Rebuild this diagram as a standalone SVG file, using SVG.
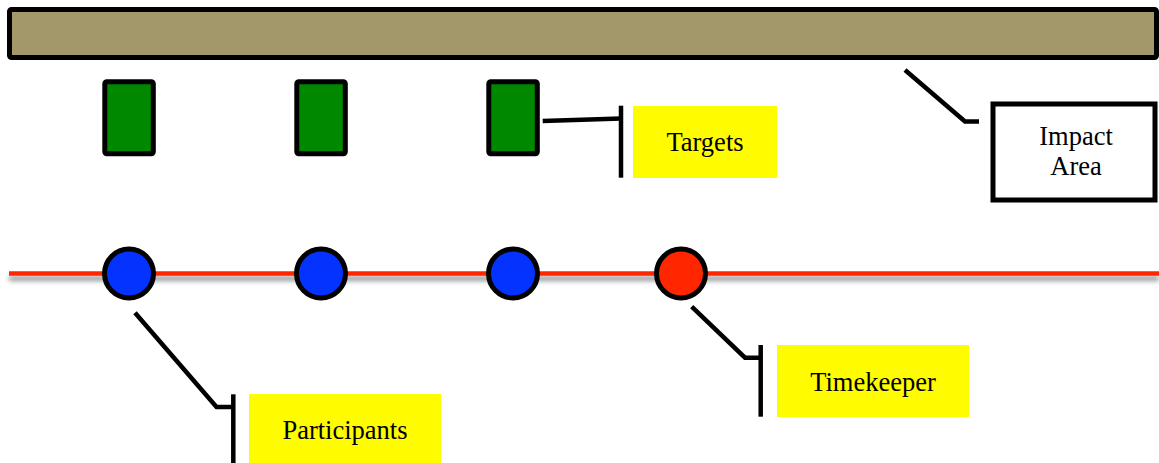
<svg xmlns="http://www.w3.org/2000/svg" width="1159" height="463" viewBox="0 0 1159 463">
  <style>
    .target { fill: #008800; stroke: #000; stroke-width: 5; }
    .person { stroke: #000; stroke-width: 5; }
    .lead { fill: none; stroke: #000; stroke-width: 4.5; stroke-linejoin: miter; }
    .tag { fill: #fffc00; }
    .label { font-family: "Liberation Serif", "Times New Roman", serif; font-size: 26.5px; fill: #000; text-anchor: middle; }
  </style>
  <defs>
    <filter id="lineShadow" filterUnits="userSpaceOnUse" x="0" y="255" width="1159" height="45">
      <feGaussianBlur in="SourceAlpha" stdDeviation="2.5"/>
      <feOffset dy="5" result="blur"/>
      <feFlood flood-color="#000" flood-opacity="0.45"/>
      <feComposite in2="blur" operator="in"/>
      <feMerge>
        <feMergeNode/>
        <feMergeNode in="SourceGraphic"/>
      </feMerge>
    </filter>
  </defs>

  <rect width="1159" height="463" fill="#fff"/>

  <!-- impact area strip -->
  <g id="impact-strip">
    <rect x="9.5" y="9.5" width="1147" height="48" rx="2" fill="#a39869" stroke="#000" stroke-width="5"/>
  </g>

  <!-- firing line -->
  <g id="firing-line">
    <line x1="9" y1="273.5" x2="1159" y2="273.5" stroke="#ff2600" stroke-width="4.5" filter="url(#lineShadow)"/>
  </g>

  <!-- targets -->
  <g id="target-1"><rect class="target" x="104.8" y="81.8" width="48.5" height="72" rx="2"/></g>
  <g id="target-2"><rect class="target" x="296.8" y="81.8" width="48.5" height="72" rx="2"/></g>
  <g id="target-3"><rect class="target" x="488.8" y="81.8" width="48.5" height="72" rx="2"/></g>

  <!-- participants and timekeeper on the line -->
  <g id="participant-1"><circle class="person" cx="129" cy="273.5" r="24.5" fill="#0433ff"/></g>
  <g id="participant-2"><circle class="person" cx="321" cy="273.5" r="24.5" fill="#0433ff"/></g>
  <g id="participant-3"><circle class="person" cx="513" cy="273.5" r="24.5" fill="#0433ff"/></g>
  <g id="timekeeper"><circle class="person" cx="681" cy="273.5" r="24.5" fill="#ff2600"/></g>

  <!-- callout leaders -->
  <g id="connectors">
    <polyline class="lead" points="905,70 965,121.5 979,121.5"/>
    <line class="lead" x1="542.7" y1="121" x2="621" y2="118.5"/>
    <line class="lead" x1="621" y1="105.7" x2="621" y2="177.7"/>
    <polyline class="lead" points="135,312.7 216.5,407 233.3,407"/>
    <line class="lead" x1="233.3" y1="394.3" x2="233.3" y2="463"/>
    <polyline class="lead" points="691.7,306.7 745,357.7 760.7,357.7"/>
    <line class="lead" x1="760.7" y1="345" x2="760.7" y2="416.7"/>
  </g>

  <!-- callout labels -->
  <g id="impact-area-label">
    <rect x="993" y="104" width="162" height="96" fill="#fff" stroke="#000" stroke-width="5"/>
    <text class="label" x="1076" y="145">Impact</text>
    <text class="label" x="1076" y="175">Area</text>
  </g>
  <g id="targets-label">
    <rect class="tag" x="633" y="106" width="144" height="72"/>
    <text class="label" x="705" y="151">Targets</text>
  </g>
  <g id="participants-label">
    <rect class="tag" x="249" y="394" width="192" height="69"/>
    <text class="label" x="345" y="438.5">Participants</text>
  </g>
  <g id="timekeeper-label">
    <rect class="tag" x="777" y="345" width="192" height="72"/>
    <text class="label" x="873" y="390.5">Timekeeper</text>
  </g>
</svg>
